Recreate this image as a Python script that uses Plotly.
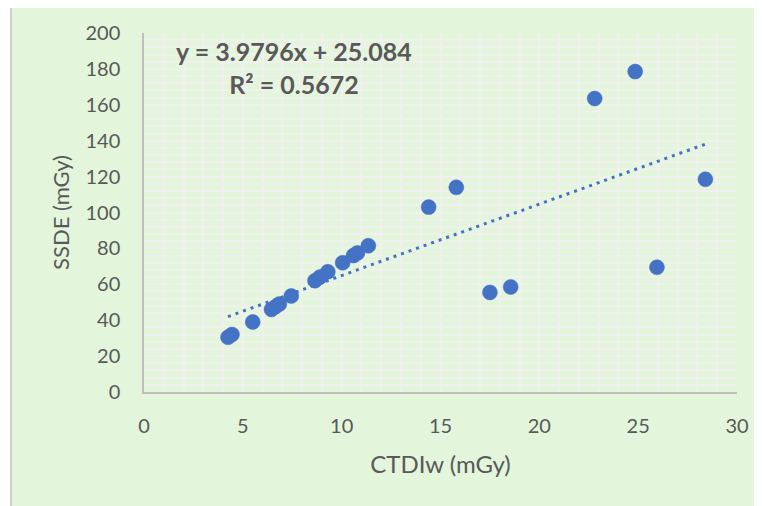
import plotly.graph_objects as go
import numpy as np

# Data
ctdiw = [4.25, 4.45, 5.5, 6.45, 6.65, 6.85, 7.45, 8.65, 8.9, 9.3,
         10.05, 10.6, 10.8, 11.35, 14.4, 15.8, 17.5, 18.55, 22.8, 24.85,
         25.95, 28.4]
ssde = [30.5, 32.0, 39.0, 46.0, 47.5, 49.0, 53.5, 62.0, 64.0, 67.0,
        72.0, 76.0, 77.5, 81.5, 103.0, 114.0, 55.5, 58.5, 163.5, 178.5,
        69.5, 118.5]

# Trendline coefficients as printed on the chart
SLOPE = 3.9796
INTERCEPT = 25.084
R2 = 0.5672

x_ticks = [0, 5, 10, 15, 20, 25, 30]
y_ticks = [0, 20, 40, 60, 80, 100, 120, 140, 160, 180, 200]

TEXT = "#595959"
GRID = "#f0f0ee"
BG = "#e3f5da"
BLUE = "#4472c4"
FONT = "Lato"

# page body has an 8px default margin; figure sized to compensate
OFF = 8
L, T = 144 - OFF, 33 - OFF
PW, PH = 593, 359
W, H = 762 - OFF, 506 - OFF

tx = np.array([min(ctdiw), max(ctdiw)])
ty = SLOPE * tx + INTERCEPT

fig = go.Figure()
fig.add_trace(go.Scatter(
    x=tx, y=ty, mode="lines",
    line=dict(color=BLUE, width=3, dash="3px,5px"),
    hoverinfo="skip", showlegend=False))
fig.add_trace(go.Scatter(
    x=ctdiw, y=ssde, mode="markers",
    marker=dict(color=BLUE, size=15, line=dict(color=BLUE, width=0.5)),
    showlegend=False))

# chart area (cropped) with border
fig.add_shape(type="rect", xref="paper", yref="paper",
              x0=-(144 - 11) / PW, x1=1.3, y0=-0.6, y1=(392 - 4) / PH,
              fillcolor=BG, line=dict(color="#d0d0d0", width=2), layer="below")

fig.add_annotation(
    xref="paper", yref="paper", x=(294 - 144) / PW, y=(392 - 68) / PH,
    text="<b>y = %.4fx + %.3f</b><br><b>R² = %.4f</b>" % (SLOPE, INTERCEPT, R2),
    showarrow=False, align="center", xanchor="center", yanchor="middle",
    font=dict(family=FONT, size=25, color=TEXT))

fig.update_layout(
    width=W, height=H,
    margin=dict(l=L, r=W - L - PW, t=T, b=H - T - PH, autoexpand=False),
    paper_bgcolor="white", plot_bgcolor=BG,
    font=dict(family=FONT, size=20, color=TEXT),
    xaxis=dict(
        range=[0, 30], tickvals=x_ticks, ticktext=[str(v) for v in x_ticks],
        showgrid=True, gridcolor=GRID, gridwidth=1.5,
        minor=dict(dtick=1, showgrid=True, gridcolor=GRID, gridwidth=1.5),
        showline=True, linecolor="#bfbfbf", linewidth=1.5,
        ticks="outside", ticklen=15, tickcolor="rgba(0,0,0,0)",
        zeroline=False, automargin=False,
        title=dict(text="CTDIw (mGy)", font=dict(size=24, color=TEXT), standoff=20)),
    yaxis=dict(
        range=[0, 200], tickvals=y_ticks, ticktext=[str(v) for v in y_ticks],
        showgrid=True, gridcolor=GRID, gridwidth=1.5,
        minor=dict(dtick=4, showgrid=True, gridcolor=GRID, gridwidth=1.5),
        showline=True, linecolor="#bfbfbf", linewidth=1.5,
        ticks="outside", ticklen=18, tickcolor="rgba(0,0,0,0)",
        zeroline=False, automargin=False,
        title=dict(text="SSDE (mGy)", font=dict(size=22, color=TEXT), standoff=10)),
)

fig.write_html("out.html")
